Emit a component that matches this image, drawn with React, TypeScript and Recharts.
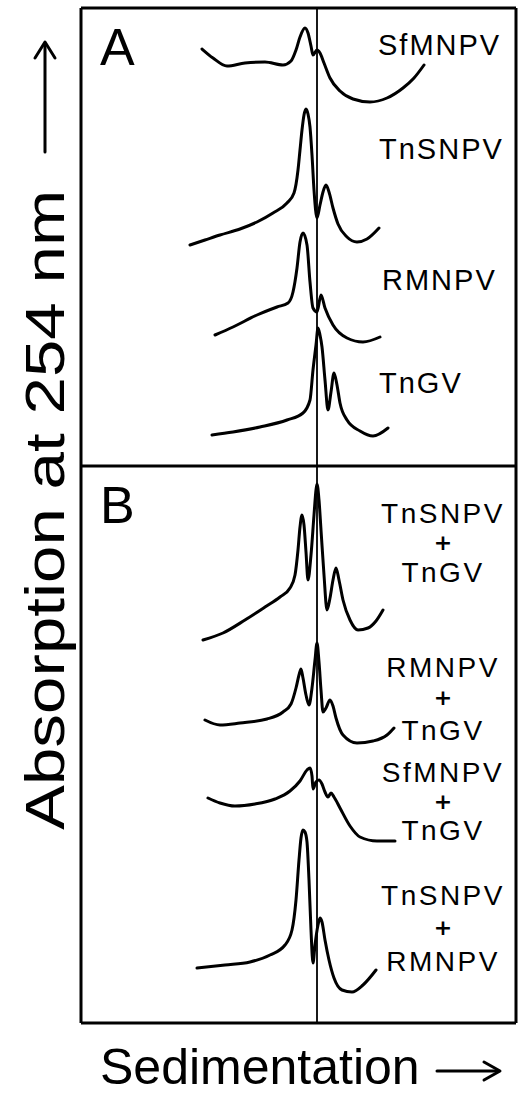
import { LineChart, Line, XAxis, YAxis, ReferenceLine } from 'recharts'

// sedimentation position (x) and absorbance (y, with each trace's offset)
const sfmnpvX = [121, 132, 146, 164, 184, 202, 210, 215, 219, 224, 227, 230, 232, 236, 239, 243, 249, 259, 272, 289, 306, 322, 333, 343]
const sfmnpvY = [974, 965, 957, 960, 961, 958, 962, 973, 986, 995, 990, 977, 968, 973, 970, 960, 945, 932, 924, 921, 925, 935, 945, 958]

const tnsnpvX = [109, 124, 139, 159, 176, 192, 206, 213, 217, 219, 221, 223, 225, 227, 229, 231, 233, 236, 239, 242, 245, 248, 252, 257, 266, 276, 286, 298]
const tnsnpvY = [778, 783, 788, 794, 801, 810, 820, 830, 853, 873, 893, 908, 914, 909, 896, 868, 833, 805, 818, 831, 838, 831, 815, 799, 786, 781, 784, 795]

const rmnpvX = [134, 152, 176, 196, 207, 212, 216, 219, 222, 226, 229, 232, 236, 240, 244, 252, 266, 282, 299]
const rmnpvY = [688, 696, 708, 716, 720, 731, 755, 781, 790, 778, 741, 715, 711, 728, 715, 698, 685, 681, 686]

const tngvX = [131, 152, 179, 206, 222, 229, 232, 235, 237, 239, 241, 244, 247, 250, 253, 256, 259, 266, 279, 292, 307]
const tngvY = [588, 591, 596, 603, 610, 623, 653, 678, 695, 688, 676, 643, 613, 631, 650, 638, 620, 603, 592, 587, 595]

const tnsnpvTngvX = [122, 142, 164, 184, 199, 209, 214, 217, 219, 221, 223, 225, 227, 230, 233, 235, 236, 238, 240, 243, 246, 249, 252, 255, 258, 262, 269, 277, 287, 295, 302]
const tnsnpvTngvY = [383, 390, 403, 416, 426, 435, 448, 473, 496, 508, 498, 471, 443, 468, 508, 533, 539, 523, 493, 448, 413, 425, 443, 455, 443, 423, 403, 393, 395, 402, 413]

const rmnpvTngvX = [124, 139, 159, 186, 202, 210, 215, 218, 220, 222, 225, 228, 231, 234, 236, 238, 240, 242, 245, 249, 252, 255, 262, 276, 292, 306, 313]
const rmnpvTngvY = [303, 298, 300, 304, 311, 319, 335, 348, 354, 345, 328, 318, 335, 363, 380, 361, 333, 311, 315, 323, 317, 305, 288, 280, 282, 288, 295]

const sfmnpvTngvX = [127, 139, 154, 174, 194, 209, 219, 226, 229, 231, 232, 235, 238, 241, 244, 247, 250, 253, 259, 269, 279, 296, 314]
const sfmnpvTngvY = [225, 220, 217, 219, 224, 232, 242, 253, 255, 247, 234, 241, 243, 239, 231, 226, 230, 226, 215, 197, 186, 182, 182]

const tnsnpvRmnpvX = [116, 144, 169, 189, 204, 211, 215, 218, 220, 222, 224, 226, 228, 230, 232, 234, 237, 239, 241, 244, 248, 253, 261, 271, 282, 295]
const tnsnpvRmnpvY = [55, 58, 61, 68, 78, 93, 123, 163, 185, 193, 191, 181, 143, 93, 60, 78, 98, 105, 101, 83, 63, 45, 33, 31, 38, 53]

const panelALabels = ['SfMNPV', 'TnSNPV', 'RMNPV', 'TnGV']
const panelBLabels = [
  ['TnSNPV', '+', 'TnGV'],
  ['RMNPV', '+', 'TnGV'],
  ['SfMNPV', '+', 'TnGV'],
  ['TnSNPV', '+', 'RMNPV'],
]

const X_MAX = 435
const Y_MAX = 1015
const MARKER = 236 // vertical reference position
const DIVIDER = 557 // boundary between panel A and B

const zip = (xs: number[], ys: number[]) => xs.map((x, i) => ({ x, y: ys[i] }))

const traces = [
  zip(sfmnpvX, sfmnpvY),
  zip(tnsnpvX, tnsnpvY),
  zip(rmnpvX, rmnpvY),
  zip(tngvX, tngvY),
  zip(tnsnpvTngvX, tnsnpvTngvY),
  zip(rmnpvTngvX, rmnpvTngvY),
  zip(sfmnpvTngvX, sfmnpvTngvY),
  zip(tnsnpvRmnpvX, tnsnpvRmnpvY),
]

const FONT = '"Liberation Sans", Arial, sans-serif'

export default function App() {
  const aBaselines = [55, 159, 290, 393]
  const aStarts = [378, 379, 382, 379]
  // baselines of the three stacked lines in panel B
  const bLines = [
    [523, 550, 582],
    [677, 705, 740],
    [782, 809, 840],
    [905, 935, 971],
  ]

  return (
    <div style={{ position: 'absolute', left: 0, top: 0, width: 520, height: 1097, background: '#fff' }}>
      <LineChart width={520} height={1097} margin={{ top: 8, right: 4, bottom: 74, left: 81 }}>
        <XAxis type="number" dataKey="x" domain={[0, X_MAX]} hide />
        <YAxis type="number" domain={[0, Y_MAX]} hide />
        <ReferenceLine x={0} stroke="#000" strokeWidth={3} />
        <ReferenceLine x={X_MAX} stroke="#000" strokeWidth={3} />
        <ReferenceLine y={0} stroke="#000" strokeWidth={3} />
        <ReferenceLine y={Y_MAX} stroke="#000" strokeWidth={3} />
        <ReferenceLine y={DIVIDER} stroke="#000" strokeWidth={3} />
        <ReferenceLine x={MARKER} stroke="#000" strokeWidth={1.8} />
        {traces.map((pts, i) => (
          <Line
            key={i}
            data={pts}
            dataKey="y"
            type="monotone"
            stroke="#000"
            strokeWidth={3}
            strokeLinejoin="round"
            strokeLinecap="round"
            dot={false}
            activeDot={false}
            isAnimationActive={false}
          />
        ))}
      </LineChart>

      <svg width={520} height={1097} style={{ position: 'absolute', left: 0, top: 0, pointerEvents: 'none' }}>
        <g fontFamily={FONT} fill="#000">
          <text x={100} y={65} fontSize={52}>A</text>
          <text x={100} y={523} fontSize={52}>B</text>

          {panelALabels.map((t, i) => (
            <text key={t} x={aStarts[i]} y={aBaselines[i]} fontSize={29} letterSpacing={2}>
              {t}
            </text>
          ))}

          {panelBLabels.map((lines, i) =>
            lines.map((t, j) => (
              <text
                key={`${i}-${j}`}
                x={443}
                y={bLines[i][j]}
                fontSize={t === '+' ? 22 : 28}
                fontWeight={t === '+' ? 700 : 400}
                fontFamily={t === '+' ? '"DejaVu Sans", sans-serif' : FONT}
                letterSpacing={t === '+' ? 0 : 2.5}
                textAnchor="middle"
              >
                {t}
              </text>
            ))
          )}

          <text
            transform="translate(64,830) rotate(-90)"
            fontSize={56}
            textLength={640}
            lengthAdjust="spacingAndGlyphs"
          >
            Absorption at 254 nm
          </text>
          <text x={100} y={1084} fontSize={50}>Sedimentation</text>
        </g>

        <g stroke="#000" strokeWidth={3} fill="none" strokeLinecap="round" strokeLinejoin="round">
          <path d="M45 152 L45 44" />
          <path d="M35 58 L45 42 L55 58" />
          <path d="M437 1071 L498 1071" />
          <path d="M484 1062 L500 1071 L484 1080" />
        </g>
      </svg>
    </div>
  )
}
